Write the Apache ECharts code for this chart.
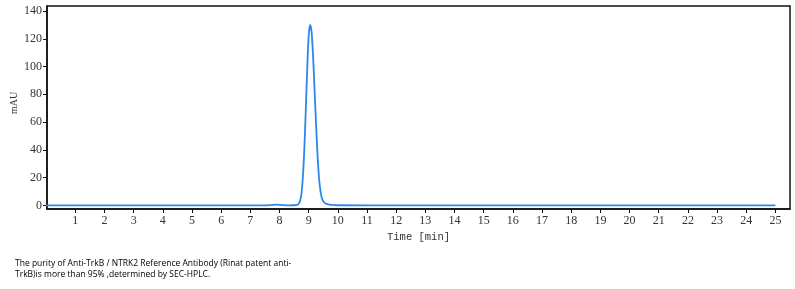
<!DOCTYPE html>
<html>
<head>
<meta charset="utf-8">
<script src="https://cdn.jsdelivr.net/npm/echarts@6/dist/echarts.min.js"></script>
<style>html,body{margin:0;padding:0;background:#fff;}#c{width:795px;height:289px;}</style>
</head>
<body>
<div id="c"></div>
<script>
const timeMin = [0, 2, 4, 6, 7, 7.5, 7.7, 7.9, 8.1, 8.3, 8.5, 8.6, 8.65, 8.7, 8.75, 8.8, 8.85, 8.9, 8.95, 9.0, 9.05, 9.1, 9.15, 9.2, 9.25, 9.3, 9.35, 9.4, 9.45, 9.5, 9.6, 9.7, 9.8, 10, 12, 15, 20, 25];
const signalMAU = [0, 0, 0, 0, 0, 0.05, 0.25, 0.5, 0.25, 0.05, 0.1, 0.4, 1, 3, 8, 20, 40, 68, 98, 122, 130, 125, 108, 84, 60, 38, 21, 11, 5.5, 3, 1.2, 0.6, 0.3, 0.1, 0, 0, 0, 0];
const yTicks = [0, 20, 40, 60, 80, 100, 120, 140];
const xTicks = [1,2,3,4,5,6,7,8,9,10,11,12,13,14,15,16,17,18,19,20,21,22,23,24,25];
const yTitle = 'mAU';
const captionLines = [
  "The purity of Anti-TrkB / NTRK2 Reference Antibody (Rinat patent anti-",
  "TrkB)is more than 95% ,determined by SEC-HPLC."
];

const chart = echarts.init(document.getElementById('c'));
const serif = '"Liberation Serif", "DejaVu Serif", serif';
chart.setOption({
  animation: false,
  backgroundColor: '#fff',
  grid: { left: 47, right: 5, top: 6, bottom: 80, containLabel: false, outerBoundsMode: 'none', show: true, borderColor: '#111', borderWidth: 1.5, backgroundColor: 'transparent' },
  xAxis: {
    type: 'value', min: 0.03, max: 25.5,
    name: 'Time [min]', nameLocation: 'middle', nameGap: 23,
    nameTextStyle: { fontFamily: '"Liberation Mono", "DejaVu Sans Mono", monospace', fontSize: 10.5, color: '#333' },
    axisLine: { show: true, onZero: false, lineStyle: { color: '#111', width: 1.5 } },
    axisTick: { show: true, inside: false, length: 4, customValues: xTicks, lineStyle: { color: '#111' } },
    axisLabel: { customValues: xTicks, fontFamily: serif, fontSize: 12, color: '#333', margin: 6 },
    splitLine: { show: false }
  },
  yAxis: {
    type: 'value', min: -2.6, max: 143.6,
    axisLine: { show: true, lineStyle: { color: '#111', width: 1.5 } },
    axisTick: { show: true, inside: false, length: 4, customValues: yTicks, lineStyle: { color: '#111' } },
    axisLabel: { customValues: yTicks, fontFamily: serif, fontSize: 12, color: '#333', margin: 5 },
    splitLine: { show: false }
  },
  series: [{
    type: 'line',
    data: timeMin.map((t, i) => [t, signalMAU[i]]),
    showSymbol: false,
    smooth: 0.3,
    lineStyle: { color: '#2a88ec', width: 1.8 }
  }],
  graphic: [{
    type: 'text', x: 14, y: 103, rotation: Math.PI / 2,
    style: { text: yTitle, fontFamily: serif, fontSize: 10, fill: '#333', align: 'center', verticalAlign: 'middle' }
  }].concat(captionLines.map((t, i) => ({
    type: 'text', left: 15, top: 259 + i * 11,
    style: { text: t, fontFamily: '"Open Sans", "Noto Sans", sans-serif', fontSize: 8.5, fill: '#000' }
  })))
});
</script>
</body>
</html>
